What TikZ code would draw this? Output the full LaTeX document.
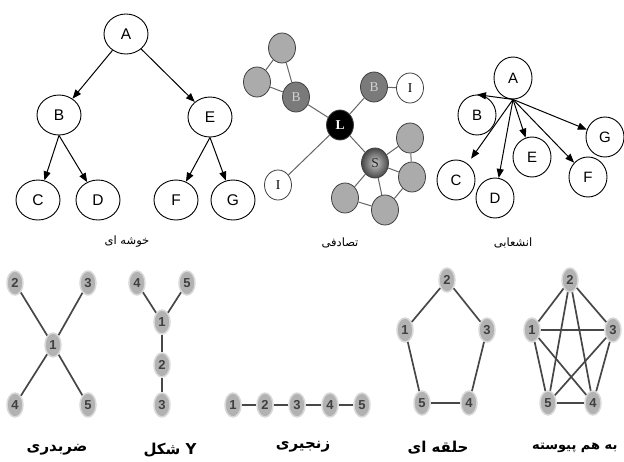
\documentclass[tikz,border=0pt]{standalone}
\usepackage{fontspec}
\setmainfont{Liberation Sans}
\newfontfamily\arabicfont[Script=Arabic]{DejaVu Sans}
\newfontfamily\seriffont{Liberation Serif}
\TeXXeTstate=1
\usetikzlibrary{arrows.meta,shapes.geometric}
\tikzset{
  tnode/.style={draw, ellipse, minimum width=44, minimum height=40, inner sep=0, line width=0.9, font=\fontsize{15.5}{15.5}\selectfont},
  bnodeA/.style={draw, ellipse, minimum width=38, minimum height=40, inner sep=0, line width=0.9, font=\fontsize{15}{15}\selectfont},
  arr/.style={-{Triangle[length=9pt,width=7pt]}, line width=1},
  rnode/.style={draw=black!75, ellipse, minimum width=27, minimum height=30, inner sep=0, line width=0.8, font=\seriffont\fontsize{13.5}{13.5}\selectfont},
  gnode/.style={rnode, fill=black!33},
  dnode/.style={rnode, fill=black!52, text=black!18},
  lnode/.style={rnode, fill=black, text=white, font=\seriffont\bfseries\fontsize{13.5}{13.5}\selectfont},
  snode/.style={rnode, inner color=black!22, outer color=black!72, text=black!85},
  inode/.style={rnode, fill=white},
  redge/.style={draw=black!60, line width=1},
  bnode/.style={ellipse, fill=black!30, draw=black!15, line width=1.5, minimum width=16, minimum height=24, inner sep=0, text=black!75, font=\bfseries\fontsize{13}{13}\selectfont},
  bedge/.style={draw=black!72, line width=1.7},
  tlabel/.style={font=\arabicfont\fontsize{11.5}{11.5}\selectfont},
  blabel/.style={font=\arabicfont\bfseries\fontsize{15}{15}\selectfont},
}
\begin{document}
\begin{tikzpicture}[x=1pt,y=-1pt]
\fill[white] (0,0) rectangle (624,461);
\useasboundingbox (0,0) rectangle (624,461);

% ---- cluster tree
\node[tnode] (A) at (126,34) {A};
\node[tnode] (B) at (59,115) {B};
\node[tnode] (E) at (210,117) {E};
\node[tnode] (C) at (38,200) {C};
\node[tnode] (D) at (98,200) {D};
\node[tnode] (F) at (176,200) {F};
\node[tnode] (G) at (233,200) {G};
\draw[arr] (A) -- (B);
\draw[arr] (A) -- (E);
\draw[arr] (B.south) -- (C);
\draw[arr] (B.south) -- (D);
\draw[arr] (E.south) -- (F);
\draw[arr] (E.south) -- (G);
\node[tlabel] (l1) at (127,242) {\beginR خوشه ای\endR};

% ---- random graph
\node[lnode] (L) at (340,125) {L};
\node[dnode] (B1) at (296,97) {B};
\node[gnode] (g1) at (282,48) {};
\node[gnode] (g2) at (257,82) {};
\node[dnode] (B2) at (374,87) {B};
\node[inode] (I1) at (410,88) {I};
\node[snode] (S) at (375,163) {S};
\node[gnode] (g3) at (410,138) {};
\node[gnode] (g4) at (412,177) {};
\node[gnode] (g5) at (385,210) {};
\node[gnode] (g6) at (345,198) {};
\node[inode] (I2) at (278,185) {I};
\draw[redge] (L) -- (B1);
\draw[redge] (L) -- (B2);
\draw[redge] (L) -- (S);
\draw[redge] (L) -- (I2);
\draw[redge] (B2) -- (I1);
\draw[redge] (B1) -- (g1);
\draw[redge] (B1) -- (g2);
\draw[redge] (g1) -- (g2);
\draw[redge] (S) -- (g3);
\draw[redge] (S) -- (g4);
\draw[redge] (S) -- (g5);
\draw[redge] (S) -- (g6);
\draw[redge] (g3) -- (g4);
\draw[redge] (g4) -- (g5);
\draw[redge] (g5) -- (g6);
\node[tlabel] (l2) at (340,243) {\beginR تصادفی\endR};

% ---- branched
\node[bnodeA, minimum height=42] (bA) at (513,78) {A};
\node[bnodeA] (bB) at (477,115) {B};
\node[bnodeA] (bC) at (456,180) {C};
\node[bnodeA] (bD) at (495,198) {D};
\node[bnodeA] (bE) at (532,157) {E};
\node[bnodeA] (bF) at (588,177) {F};
\node[bnodeA] (bG) at (605,137) {G};
\draw[arr] (bA.south) -- (bB.north);
\draw[arr, shorten >=6pt] (bA.south) -- (bC);
\draw[arr] (bA.south) -- (bD);
\draw[arr] (bA.south) -- (bE);
\draw[arr] (bA.south) -- (bF);
\draw[arr] (bA.south) -- (bG);
\node[tlabel] (l3) at (513,243) {\beginR انشعابی\endR};

% ---- cross
\node[bnode] (x2) at (15,283) {2};
\node[bnode] (x3) at (88,283) {3};
\node[bnode] (x1) at (53,345) {1};
\node[bnode] (x4) at (15,405) {4};
\node[bnode] (x5) at (88,405) {5};
\draw[bedge] (x1) -- (x2);
\draw[bedge] (x1) -- (x3);
\draw[bedge] (x1) -- (x4);
\draw[bedge] (x1) -- (x5);
\node[blabel] (l4) at (57,450) {\beginR ضربدری\endR};

% ---- Y shaped
\node[bnode] (y4) at (137,283) {4};
\node[bnode] (y5) at (187,283) {5};
\node[bnode] (y1) at (162,322) {1};
\node[bnode] (y2) at (162,365) {2};
\node[bnode] (y3) at (162,405) {3};
\draw[bedge] (y1) -- (y4);
\draw[bedge] (y1) -- (y5);
\draw[bedge] (y1) -- (y2);
\draw[bedge] (y2) -- (y3);
\node[blabel] (l5) at (170,450) {\beginR Y شکل\endR};

% ---- chain
\node[bnode] (c1) at (233,405) {1};
\node[bnode] (c2) at (265,405) {2};
\node[bnode] (c3) at (297,405) {3};
\node[bnode] (c4) at (330,405) {4};
\node[bnode] (c5) at (362,405) {5};
\draw[bedge] (c1) -- (c2);
\draw[bedge] (c2) -- (c3);
\draw[bedge] (c3) -- (c4);
\draw[bedge] (c4) -- (c5);
\node[blabel] (l6) at (303,447) {\beginR زنجیری\endR};

% ---- ring
\node[bnode] (r2) at (447,280) {2};
\node[bnode] (r1) at (405,330) {1};
\node[bnode] (r3) at (487,330) {3};
\node[bnode] (r5) at (422,403) {5};
\node[bnode] (r4) at (469,403) {4};
\draw[bedge] (r1) -- (r2);
\draw[bedge] (r2) -- (r3);
\draw[bedge] (r3) -- (r4);
\draw[bedge] (r4) -- (r5);
\draw[bedge] (r5) -- (r1);
\node[blabel] (l7) at (438,448) {\beginR حلقه ای\endR};

% ---- fully connected
\node[bnode] (k2) at (570,280) {2};
\node[bnode] (k1) at (532,330) {1};
\node[bnode] (k3) at (613,330) {3};
\node[bnode] (k5) at (548,403) {5};
\node[bnode] (k4) at (593,403) {4};
\foreach \a/\b in {k1/k2,k1/k3,k1/k4,k1/k5,k2/k3,k2/k4,k2/k5,k3/k4,k3/k5,k4/k5}
  \draw[bedge] (\a) -- (\b);
\node[blabel, font=\arabicfont\bfseries\fontsize{13}{13}\selectfont, anchor=east] (l8) at (621,448) {\beginR به هم پیوسته\endR};
\end{tikzpicture}
\end{document}
